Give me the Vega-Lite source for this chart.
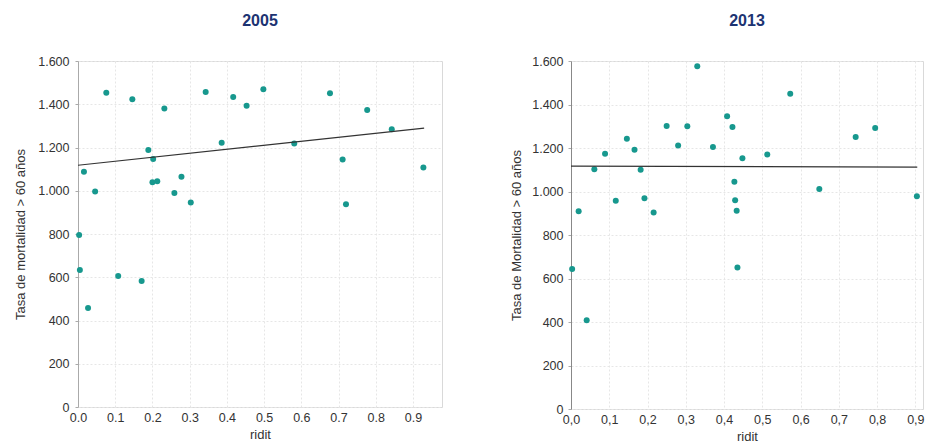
{
  "$schema": "https://vega.github.io/schema/vega-lite/v6.json",
  "padding": {"left": 14, "top": 12, "right": 0, "bottom": 0},
  "background": "white",
  "spacing": 67,
  "config": {
    "font": "Liberation Sans",
    "view": {"stroke": "#d9d9d9", "strokeWidth": 1},
    "axis": {
      "labelFont": "Liberation Sans",
      "titleFont": "Liberation Sans",
      "labelFontSize": 12.5,
      "titleFontSize": 13,
      "labelColor": "#333333",
      "titleColor": "#333333",
      "titleFontWeight": "normal",
      "gridColor": "#e6e6e6",
      "gridDash": [2, 2],
      "domainColor": "#aaaaaa",
      "tickColor": "#aaaaaa",
      "tickSize": 3,
      "labelOverlap": false,
      "labelFlush": false
    },
    "title": {"font": "Liberation Sans", "fontSize": 16, "fontWeight": "bold", "color": "#1c3372", "offset": 26}
  },
  "datasets": {
    "p2005": [
      {"ridit": 0.003, "tasa": 795}, {"ridit": 0.016, "tasa": 1088}, {"ridit": 0.046, "tasa": 996},
      {"ridit": 0.076, "tasa": 1453}, {"ridit": 0.146, "tasa": 1423}, {"ridit": 0.189, "tasa": 1188},
      {"ridit": 0.202, "tasa": 1147}, {"ridit": 0.2, "tasa": 1039}, {"ridit": 0.213, "tasa": 1044},
      {"ridit": 0.232, "tasa": 1380}, {"ridit": 0.259, "tasa": 990}, {"ridit": 0.278, "tasa": 1065},
      {"ridit": 0.303, "tasa": 946}, {"ridit": 0.343, "tasa": 1457}, {"ridit": 0.386, "tasa": 1222},
      {"ridit": 0.417, "tasa": 1434}, {"ridit": 0.453, "tasa": 1393}, {"ridit": 0.498, "tasa": 1469},
      {"ridit": 0.581, "tasa": 1219}, {"ridit": 0.677, "tasa": 1451}, {"ridit": 0.711, "tasa": 1145},
      {"ridit": 0.72, "tasa": 937}, {"ridit": 0.777, "tasa": 1373}, {"ridit": 0.843, "tasa": 1284},
      {"ridit": 0.928, "tasa": 1108}, {"ridit": 0.005, "tasa": 634}, {"ridit": 0.027, "tasa": 458},
      {"ridit": 0.108, "tasa": 606}, {"ridit": 0.171, "tasa": 583}
    ],
    "p2013": [
      {"ridit": 0.02, "tasa": 909}, {"ridit": 0.061, "tasa": 1102}, {"ridit": 0.089, "tasa": 1174},
      {"ridit": 0.117, "tasa": 958}, {"ridit": 0.146, "tasa": 1243}, {"ridit": 0.166, "tasa": 1192},
      {"ridit": 0.182, "tasa": 1100}, {"ridit": 0.192, "tasa": 969}, {"ridit": 0.216, "tasa": 903},
      {"ridit": 0.25, "tasa": 1301}, {"ridit": 0.28, "tasa": 1212}, {"ridit": 0.304, "tasa": 1300},
      {"ridit": 0.33, "tasa": 1576}, {"ridit": 0.371, "tasa": 1205}, {"ridit": 0.408, "tasa": 1346},
      {"ridit": 0.422, "tasa": 1297}, {"ridit": 0.427, "tasa": 1045}, {"ridit": 0.429, "tasa": 960},
      {"ridit": 0.433, "tasa": 912}, {"ridit": 0.448, "tasa": 1153}, {"ridit": 0.513, "tasa": 1170},
      {"ridit": 0.573, "tasa": 1450}, {"ridit": 0.649, "tasa": 1011}, {"ridit": 0.744, "tasa": 1251},
      {"ridit": 0.795, "tasa": 1292}, {"ridit": 0.904, "tasa": 978}, {"ridit": 0.003, "tasa": 644},
      {"ridit": 0.041, "tasa": 408}, {"ridit": 0.435, "tasa": 651}
    ],
    "t2005": [{"ridit": 0, "tasa": 1118}, {"ridit": 0.93, "tasa": 1290}],
    "t2013": [{"ridit": 0, "tasa": 1117}, {"ridit": 0.905, "tasa": 1112}]
  },
  "hconcat": [
    {
      "title": "2005",
      "width": 364,
      "height": 346,
      "layer": [
        {
          "data": {"name": "p2005"},
          "mark": {"type": "circle", "size": 36, "color": "#17988e", "opacity": 1},
          "encoding": {
            "x": {"field": "ridit", "type": "quantitative", "scale": {"domain": [0, 0.978], "nice": false},
              "axis": {"title": "ridit", "values": [0, 0.1, 0.2, 0.3, 0.4, 0.5, 0.6, 0.7, 0.8, 0.9], "tickCount": 10, "format": ".1f", "domain": false, "ticks": false, "labelPadding": 4, "titlePadding": 5, "labelOverlap": false, "labelFlush": false}},
            "y": {"field": "tasa", "type": "quantitative", "scale": {"domain": [0, 1600], "nice": false},
              "axis": {"title": "Tasa de mortalidad > 60 años", "values": [0, 200, 400, 600, 800, 1000, 1200, 1400, 1600], "tickCount": 9,
                "labelExpr": "replace(format(datum.value, ','), ',', '.')", "labelPadding": 6, "titlePadding": 10, "labelFlush": false}}
          }
        },
        {
          "data": {"name": "t2005"},
          "mark": {"type": "line", "color": "#333333", "strokeWidth": 1.2},
          "encoding": {
            "x": {"field": "ridit", "type": "quantitative"},
            "y": {"field": "tasa", "type": "quantitative"}
          }
        }
      ]
    },
    {
      "title": "2013",
      "width": 352,
      "height": 348,
      "layer": [
        {
          "data": {"name": "p2013"},
          "mark": {"type": "circle", "size": 36, "color": "#17988e", "opacity": 1},
          "encoding": {
            "x": {"field": "ridit", "type": "quantitative", "scale": {"domain": [0, 0.92], "nice": false},
              "axis": {"title": "ridit", "values": [0, 0.1, 0.2, 0.3, 0.4, 0.5, 0.6, 0.7, 0.8, 0.9], "tickCount": 10,
                "labelExpr": "replace(format(datum.value, '.1f'), '.', ',')", "domain": false, "ticks": false, "labelPadding": 4, "titlePadding": 5, "labelOverlap": false, "labelFlush": false}},
            "y": {"field": "tasa", "type": "quantitative", "scale": {"domain": [0, 1600], "nice": false},
              "axis": {"title": "Tasa de Mortalidad > 60 años", "values": [0, 200, 400, 600, 800, 1000, 1200, 1400, 1600], "tickCount": 9,
                "labelExpr": "replace(format(datum.value, ','), ',', '.')", "domainColor": "#888888", "labelPadding": 5, "titlePadding": 8, "labelFlush": false}}
          }
        },
        {
          "data": {"name": "t2013"},
          "mark": {"type": "line", "color": "#333333", "strokeWidth": 1.2},
          "encoding": {
            "x": {"field": "ridit", "type": "quantitative"},
            "y": {"field": "tasa", "type": "quantitative"}
          }
        }
      ]
    }
  ]
}
